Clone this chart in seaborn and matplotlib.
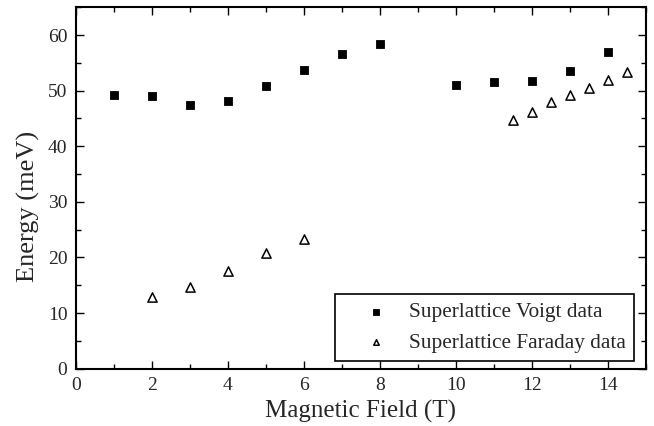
import matplotlib
matplotlib.use("Agg")
import matplotlib.pyplot as plt
from matplotlib.ticker import MultipleLocator
import pandas as pd
import seaborn as sns

# Measured peak energies vs. applied magnetic field
voigt_field = [1, 2, 3, 4, 5, 6, 7, 8, 10, 11, 12, 13, 14]
voigt_energy = [49.3, 49.0, 47.4, 48.2, 50.8, 53.7, 56.5, 58.3, 51.0, 51.6, 51.8, 53.6, 57.0]

faraday_field = [2, 3, 4, 5, 6, 11.5, 12, 12.5, 13, 13.5, 14, 14.5]
faraday_energy = [12.9, 14.7, 17.6, 20.8, 23.4, 44.7, 46.2, 47.9, 49.3, 50.5, 52.0, 53.3]

x_ticks = [0, 2, 4, 6, 8, 10, 12, 14]
y_ticks = [0, 10, 20, 30, 40, 50, 60]

sns.set_theme(style="ticks")
plt.rcParams["font.family"] = ["Liberation Serif", "DejaVu Serif"]

voigt = pd.DataFrame({"field": voigt_field, "energy": voigt_energy})
faraday = pd.DataFrame({"field": faraday_field, "energy": faraday_energy})

fig = plt.figure(figsize=(6.54, 4.26), dpi=100)
ax = fig.add_axes([0.1158, 0.1347, 0.8720, 0.8483])

sns.scatterplot(data=voigt, x="field", y="energy", ax=ax, marker="s", s=38,
                color="black", edgecolor="black", linewidth=0.6,
                label="Superlattice Voigt data")
sns.scatterplot(data=faraday, x="field", y="energy", ax=ax, marker="^", s=44,
                facecolor="white", edgecolor="black", linewidth=1.1,
                label="Superlattice Faraday data")

ax.set_xlim(0, 15)
ax.set_ylim(0, 65)
ax.set_xticks(x_ticks)
ax.set_yticks(y_ticks)
ax.xaxis.set_minor_locator(MultipleLocator(1))
ax.yaxis.set_minor_locator(MultipleLocator(5))
ax.tick_params(which="both", direction="in", top=True, right=True,
               labeltop=False, labelright=False, color="black", width=1.0)
ax.tick_params(which="major", length=6, labelsize=14, pad=6)
ax.tick_params(which="minor", length=3.5)

for side in ax.spines.values():
    side.set_linewidth(1.5)
    side.set_color("black")

ax.set_xlabel("Magnetic Field (T)", fontsize=18, labelpad=4)
ax.set_ylabel("Energy (meV)", fontsize=19)
ax.yaxis.set_label_coords(-0.063, 0.45)

leg = ax.legend(loc="lower right", bbox_to_anchor=(0.979, 0.02), fontsize=15.3,
                frameon=True, fancybox=False, edgecolor="black",
                markerscale=0.6, handletextpad=0.05, borderpad=0.4,
                labelspacing=0.5, borderaxespad=0.0, handlelength=3.0)
leg.get_frame().set_linewidth(1.2)
leg.get_frame().set_alpha(1.0)

fig.savefig("out.png", dpi=100)
